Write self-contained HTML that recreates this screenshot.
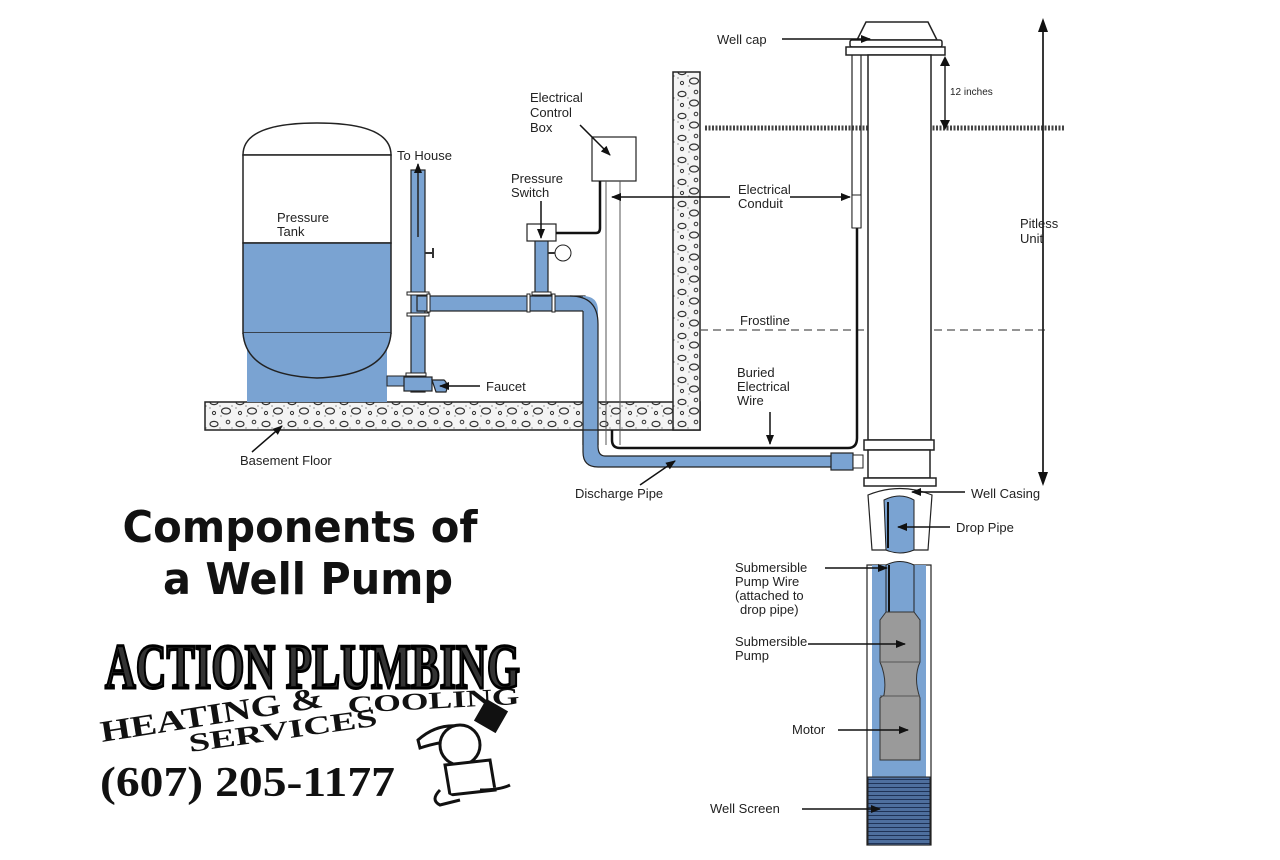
<!DOCTYPE html>
<html><head><meta charset="utf-8"><style>
html,body{margin:0;padding:0;background:#fff;}
svg{display:block;}
.t{font-family:"Liberation Sans",sans-serif;font-size:13px;fill:#222;}
</style></head><body>
<svg width="1280" height="860" viewBox="0 0 1280 860" xmlns="http://www.w3.org/2000/svg">
<defs>
<pattern id="rock" width="26" height="22" patternUnits="userSpaceOnUse">
<rect width="26" height="22" fill="#f4f4f4"/>
<ellipse cx="6" cy="6" rx="4" ry="2.6" fill="none" stroke="#333" stroke-width="1.2"/>
<ellipse cx="18" cy="15" rx="4.5" ry="3" fill="none" stroke="#333" stroke-width="1.2"/>
<circle cx="20" cy="4" r="1.8" fill="none" stroke="#333" stroke-width="1"/>
<circle cx="6" cy="17" r="1.6" fill="none" stroke="#333" stroke-width="1"/>
<circle cx="12" cy="10" r="0.6" fill="#555"/><circle cx="2" cy="12" r="0.6" fill="#555"/>
<circle cx="24" cy="10" r="0.6" fill="#555"/><circle cx="13" cy="20" r="0.6" fill="#555"/>
</pattern>
<marker id="ah" markerWidth="10" markerHeight="8" refX="9" refY="4" orient="auto" markerUnits="userSpaceOnUse"><path d="M0,0 L10,4 L0,8 z" fill="#111"/></marker>
<pattern id="scr" width="10" height="4" patternUnits="userSpaceOnUse"><rect width="10" height="4" fill="#4e6f9e"/><rect y="3" width="10" height="1" fill="#1f3357"/></pattern>
</defs>

<rect x="205" y="402" width="495" height="28" fill="url(#rock)" stroke="#222" stroke-width="1.5"/>
<rect x="673" y="72" width="27" height="358" fill="url(#rock)" stroke="#222" stroke-width="1.5"/>
<rect x="674" y="402" width="25" height="27" fill="url(#rock)"/>
<path d="M705,128 L1065,128" stroke="#444" stroke-width="5" stroke-dasharray="2 1.5"/>
<path d="M700,330 L1045,330" stroke="#555" stroke-width="1.3" stroke-dasharray="8 5"/>

<path d="M243,155 Q243,123 317,123 Q391,123 391,155 Z" fill="#fff" stroke="#222" stroke-width="1.5"/>
<rect x="243" y="155" width="148" height="88" fill="#fff" stroke="#222" stroke-width="1.5"/>
<rect x="243" y="243" width="148" height="90" fill="#7aa3d2" stroke="#222" stroke-width="1.5"/>
<rect x="247" y="333" width="140" height="69" fill="#7aa3d2"/>
<path d="M243,333 Q246,375 317,378 Q388,375 391,333" fill="#7aa3d2" stroke="#222" stroke-width="1.5"/>
<rect x="387" y="376" width="30" height="10" fill="#7aa3d2" stroke="#222"/>

<g fill="#7aa3d2" stroke="#222" stroke-width="1.2">
<rect x="411" y="170" width="14" height="222"/>
<rect x="417" y="296" width="168" height="15"/>
<path d="M583,296 Q598,296 598,311 L598,455 L583,455 L583,311 Z" stroke="none"/>
<path d="M570,296 Q598,296 598,324 L598,445 M583,311 L583,445" fill="none"/>
<path d="M583,430 L583,452 Q583,467 598,467 L850,467 L850,456 L605,456 Q598,456 598,446 L598,430 Z"/>
<rect x="535" y="240" width="13" height="56"/>
<rect x="831" y="453" width="22" height="17"/>
<rect x="404" y="377" width="28" height="14"/>
<path d="M432,380 L444,380 Q449,384 446,392 L436,392 Z"/>
</g>
<g fill="#fff" stroke="#222" stroke-width="1">
<rect x="407" y="292" width="22" height="3"/><rect x="407" y="313" width="22" height="3"/>
<rect x="427" y="294" width="3" height="18"/><rect x="527" y="294" width="3" height="18"/><rect x="552" y="294" width="3" height="18"/>
<rect x="532" y="292" width="19" height="3"/><rect x="406" y="373" width="20" height="3"/>
<rect x="853" y="455" width="10" height="13"/>
</g>
<path d="M418,165 L418,238" stroke="#222" stroke-width="1.5" marker-end="url(#ah)" transform="rotate(180 418 201)"/>
<path d="M425,253 L433,253 M433,248 L433,258" stroke="#333" stroke-width="2"/>
<circle cx="563" cy="253" r="8" fill="#fff" stroke="#222"/>
<path d="M548,253 L555,253" stroke="#333" stroke-width="2"/>
<rect x="527" y="224" width="29" height="17" fill="#fff" stroke="#222" stroke-width="1.2"/>
<rect x="592" y="137" width="44" height="44" fill="#fff" stroke="#222" stroke-width="1.2"/>
<path d="M556,233 L596,233 Q600,233 600,228 L600,181" fill="none" stroke="#111" stroke-width="2.5"/>
<path d="M606,181 L606,445 M620,181 L620,445" stroke="#555" stroke-width="1"/>
<path d="M612,430 L612,440 Q612,448 620,448 L848,448 Q857,448 857,438 L857,228" fill="none" stroke="#111" stroke-width="2.5"/>

<path d="M857,40 L866,22 L928,22 L937,40 Z" fill="#fff" stroke="#222" stroke-width="1.5"/>
<rect x="850" y="40" width="92" height="7" rx="2" fill="#fff" stroke="#222" stroke-width="1.5"/>
<rect x="846" y="47" width="99" height="8" fill="#fff" stroke="#222" stroke-width="1.5"/>
<rect x="868" y="55" width="63" height="385" fill="#fff" stroke="#222" stroke-width="1.5"/>
<path d="M852,55 L852,228 M861,55 L861,228" stroke="#222" stroke-width="1.2"/>
<rect x="852" y="195" width="9" height="33" fill="#fff" stroke="#222"/>
<rect x="864" y="440" width="70" height="10" fill="#fff" stroke="#222" stroke-width="1.5"/>
<rect x="868" y="450" width="62" height="28" fill="#fff" stroke="#222" stroke-width="1.5"/>
<rect x="864" y="478" width="72" height="8" fill="#fff" stroke="#222" stroke-width="1.5"/>
<path d="M868,495 Q900,482 932,495 L928,550 L872,550 Z" fill="#fff" stroke="#222" stroke-width="1.2"/>
<path d="M884,500 Q900,492 914,500 L914,550 Q900,556 886,550 Z" fill="#7aa3d2" stroke="#222"/>
<path d="M888,502 L888,548" stroke="#111" stroke-width="2"/>
<rect x="867" y="565" width="64" height="280" fill="#fff" stroke="#222" stroke-width="1.2"/>
<rect x="872" y="565" width="54" height="212" fill="#7aa3d2"/>
<path d="M886,565 Q900,558 914,565 L914,615 L886,615 Z" fill="#7aa3d2" stroke="#222"/>
<path d="M889,565 L889,618" stroke="#111" stroke-width="2"/>
<path d="M886,612 L880,620 L880,662 Q887,678 884,695 L880,698 L880,760 L920,760 L920,698 Q913,678 920,662 L920,620 L914,612 Z" fill="#9a9a9a" stroke="#333"/>
<path d="M880,662 L920,662 M880,696 L920,696" stroke="#555"/>
<rect x="868" y="777" width="62" height="68" fill="url(#scr)" stroke="#222"/>
<path d="M1043,30 L1043,475" stroke="#222" stroke-width="1.8"/>
<path d="M1038,32 L1043,18 L1048,32 Z M1038,472 L1043,486 L1048,472 Z" fill="#111"/>
<path d="M945,62 L945,125" stroke="#222" stroke-width="1.5"/>
<path d="M940,66 L945,56 L950,66 Z M940,120 L945,130 L950,120 Z" fill="#111"/>

<g stroke="#111" stroke-width="1.5" fill="none" marker-end="url(#ah)">
<path d="M782,39 L870,39"/>
<path d="M580,125 L610,155"/>
<path d="M541,201 L541,238"/>
<path d="M730,197 L612,197"/>
<path d="M790,197 L850,197"/>
<path d="M480,386 L440,386"/>
<path d="M252,452 L282,426"/>
<path d="M770,412 L770,444"/>
<path d="M640,485 L675,461"/>
<path d="M965,492 L912,492"/>
<path d="M950,527 L898,527"/>
<path d="M825,568 L887,568"/>
<path d="M808,644 L905,644"/>
<path d="M838,730 L908,730"/>
<path d="M802,809 L880,809"/>
</g>

<text class="t" x="717" y="44">Well cap</text>
<text class="t" x="950" y="95" style="font-size:10px">12 inches</text>
<text class="t" x="530" y="102">Electrical</text><text class="t" x="530" y="117">Control</text><text class="t" x="530" y="132">Box</text>
<text class="t" x="397" y="160">To House</text>
<text class="t" x="511" y="183">Pressure</text><text class="t" x="511" y="197">Switch</text>
<text class="t" x="738" y="194">Electrical</text><text class="t" x="738" y="208">Conduit</text>
<text class="t" x="1020" y="228">Pitless</text><text class="t" x="1020" y="243">Unit</text>
<text class="t" x="277" y="222">Pressure</text><text class="t" x="277" y="236">Tank</text>
<text class="t" x="740" y="325">Frostline</text>
<text class="t" x="737" y="377">Buried</text><text class="t" x="737" y="391">Electrical</text><text class="t" x="737" y="405">Wire</text>
<text class="t" x="486" y="391">Faucet</text>
<text class="t" x="240" y="465">Basement Floor</text>
<text class="t" x="575" y="498">Discharge Pipe</text>
<text class="t" x="971" y="498">Well Casing</text>
<text class="t" x="956" y="532">Drop Pipe</text>
<text class="t" x="735" y="572">Submersible</text><text class="t" x="735" y="586">Pump Wire</text><text class="t" x="735" y="600">(attached to</text><text class="t" x="740" y="614">drop pipe)</text>
<text class="t" x="735" y="646">Submersible</text><text class="t" x="735" y="660">Pump</text>
<text class="t" x="792" y="734">Motor</text>
<text class="t" x="710" y="813">Well Screen</text>

<g font-family="'DejaVu Sans','Liberation Sans',sans-serif" font-weight="bold" font-size="44" fill="#111" text-anchor="middle">
<text x="300" y="542" textLength="355" lengthAdjust="spacingAndGlyphs">Components of</text>
<text x="308" y="594" textLength="290" lengthAdjust="spacingAndGlyphs">a Well Pump</text>
</g>
<text x="105" y="688" font-family="'Liberation Serif',serif" font-weight="bold" font-size="64" fill="#333" stroke="#000" stroke-width="3" textLength="415" lengthAdjust="spacingAndGlyphs">ACTION PLUMBING</text>
<text x="102" y="742" font-family="'Liberation Serif',serif" font-weight="bold" font-size="30" fill="#111" transform="rotate(-9 102 742)" textLength="225" lengthAdjust="spacingAndGlyphs">HEATING &amp;</text>
<text x="348" y="713" font-family="'Liberation Serif',serif" font-weight="bold" font-size="24" fill="#111" transform="rotate(-3 348 713)" textLength="172" lengthAdjust="spacingAndGlyphs">COOLING</text>
<text x="190" y="752" font-family="'Liberation Serif',serif" font-weight="bold" font-size="26" fill="#111" transform="rotate(-8 190 752)" textLength="190" lengthAdjust="spacingAndGlyphs">SERVICES</text>
<text x="100" y="796" font-family="'Liberation Serif',serif" font-weight="bold" font-size="42" fill="#111" textLength="295" lengthAdjust="spacingAndGlyphs">(607) 205-1177</text>
<g stroke="#111" stroke-width="3" fill="#fff">
<path d="M418,740 Q440,720 470,728 L475,742 Q450,738 420,748 Z"/>
<ellipse cx="460" cy="745" rx="20" ry="20"/>
<path d="M445,765 L490,760 L495,790 L450,795 Z"/>
<path d="M440,790 Q430,800 440,805 L460,800 M480,790 Q500,790 510,785"/>
<rect x="480" y="705" width="22" height="22" fill="#111" transform="rotate(30 491 716)"/>
</g>
</svg>
</body></html>
